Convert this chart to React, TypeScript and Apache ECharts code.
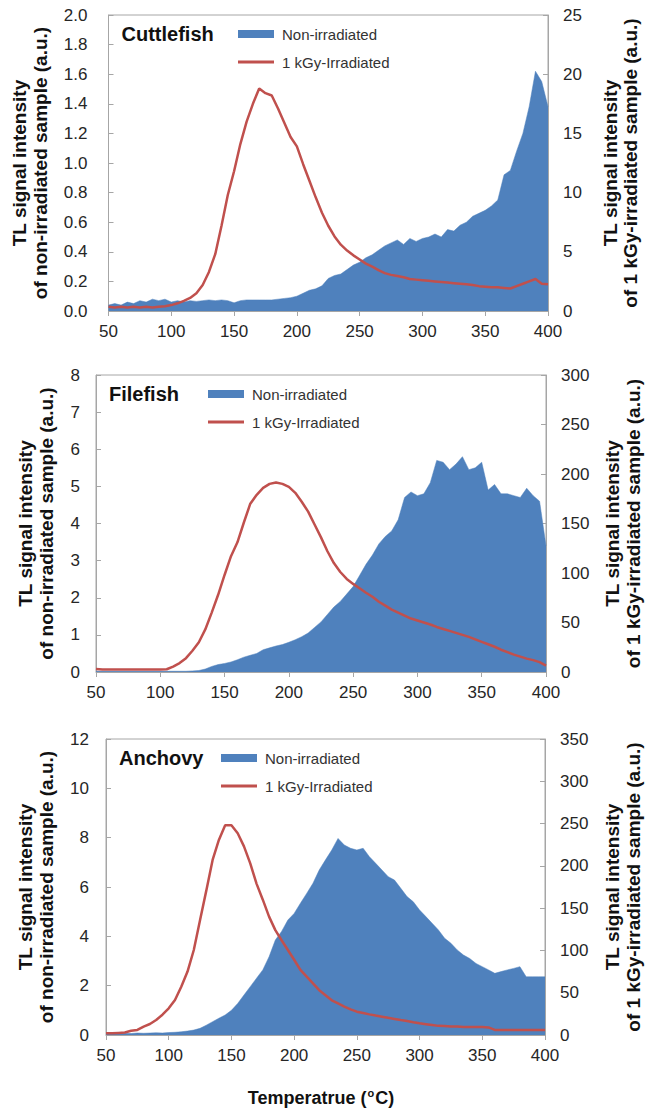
import React, { useEffect, useRef } from "react";
import * as echarts from "echarts";

const temps = [
  50, 55, 60, 65, 70, 75, 80, 85, 90, 95,
  100, 105, 110, 115, 120, 125, 130, 135, 140, 145,
  150, 155, 160, 165, 170, 175, 180, 185, 190, 195,
  200, 205, 210, 215, 220, 225, 230, 235, 240, 245,
  250, 255, 260, 265, 270, 275, 280, 285, 290, 295,
  300, 305, 310, 315, 320, 325, 330, 335, 340, 345,
  350, 355, 360, 365, 370, 375, 380, 385, 390, 395, 400,
];

const xTicks = { min: 50, max: 400, interval: 50 };

// Cuttlefish
const cuttleNon = [
  0.04, 0.05, 0.04, 0.06, 0.05, 0.07, 0.06, 0.08, 0.07, 0.08,
  0.06, 0.07, 0.06, 0.07, 0.065, 0.07, 0.075, 0.07, 0.075, 0.07,
  0.055, 0.07, 0.075, 0.075, 0.075, 0.075, 0.075, 0.08, 0.085, 0.09,
  0.1, 0.12, 0.14, 0.15, 0.17, 0.22, 0.24, 0.25, 0.28, 0.31,
  0.33, 0.36, 0.38, 0.41, 0.44, 0.46, 0.48, 0.45, 0.49, 0.47,
  0.49, 0.5, 0.52, 0.5, 0.55, 0.54, 0.58, 0.6, 0.64, 0.66,
  0.68, 0.71, 0.75, 0.92, 0.95, 1.08, 1.2, 1.38, 1.62, 1.55, 1.38,
];
const cuttleIrr = [
  0.35, 0.3, 0.35, 0.3, 0.35, 0.3, 0.35, 0.3, 0.35, 0.4,
  0.5, 0.65, 0.85, 1.1, 1.5, 2.2, 3.3, 4.8, 7.2, 9.8,
  11.8, 14.1, 16.0, 17.5, 18.8, 18.4, 18.2, 17.1, 15.9, 14.7,
  13.9, 12.4, 11.0, 9.6, 8.3, 7.2, 6.3, 5.6, 5.1, 4.7,
  4.35, 4.0, 3.75, 3.45, 3.2, 3.05, 2.95, 2.85, 2.7, 2.65,
  2.6, 2.55, 2.5, 2.45, 2.4, 2.35, 2.3, 2.25, 2.2, 2.1,
  2.05, 2.0, 2.0, 1.95, 1.9, 2.1, 2.3, 2.5, 2.7, 2.3, 2.25,
];

// Filefish
const fileNon = [
  0.02, 0.02, 0.02, 0.02, 0.02, 0.02, 0.02, 0.02, 0.02, 0.02,
  0.02, 0.02, 0.02, 0.02, 0.02, 0.03, 0.04, 0.08, 0.15, 0.2,
  0.23, 0.27, 0.33, 0.4, 0.45, 0.5, 0.6, 0.65, 0.7, 0.74,
  0.8, 0.87, 0.95, 1.05, 1.2, 1.35, 1.55, 1.75, 1.9, 2.1,
  2.3, 2.6, 2.9, 3.15, 3.45, 3.65, 3.8, 4.1, 4.7, 4.85,
  4.75, 4.8, 5.1, 5.7, 5.65, 5.45, 5.6, 5.8, 5.45, 5.5,
  5.65, 4.9, 5.05, 4.8, 4.8, 4.75, 4.7, 4.95, 4.75, 4.6, 3.4,
];
const fileIrr = [
  3, 2.5, 2.5, 2.5, 2.5, 2.5, 2.5, 2.5, 2.5, 2.5,
  2.5, 2.8, 5.5, 9, 14, 21.5, 30, 43, 60, 78,
  98, 117, 131, 151, 170, 179, 186, 190, 191.5, 190,
  187, 181, 172, 162, 149, 136, 122, 110, 101, 94,
  89, 84.5, 80, 76, 71, 67, 63, 60, 57, 54,
  52, 50, 48, 45.5, 43.5, 41.5, 39.5, 37.5, 35.5, 33,
  30.5, 28, 25.5, 22.5, 20, 17.5, 15.5, 13.5, 12, 10, 6.5,
];

// Anchovy
const anchNon = [
  0.05, 0.06, 0.05, 0.07, 0.06, 0.08, 0.07, 0.08, 0.09, 0.08,
  0.1, 0.11, 0.13, 0.16, 0.2, 0.27, 0.4, 0.54, 0.68, 0.81,
  1.0, 1.28, 1.62, 1.96, 2.3, 2.64, 3.17, 3.85, 4.2, 4.66,
  4.93, 5.34, 5.74, 6.15, 6.69, 7.1, 7.5, 7.97, 7.7, 7.57,
  7.5, 7.57, 7.23, 6.96, 6.69, 6.42, 6.28, 5.95, 5.61, 5.4,
  5.07, 4.8, 4.53, 4.26, 3.92, 3.72, 3.45, 3.24, 3.1, 2.9,
  2.77, 2.64, 2.5, 2.57, 2.64, 2.7, 2.77, 2.36, 2.36, 2.36, 2.36,
];
const anchIrr = [
  2, 2, 2.5, 3, 5, 6, 10, 13, 17.7, 24,
  31.5, 41.4, 57, 75, 100.5, 136, 171, 207, 230.6, 248,
  248, 238.5, 223, 203, 179, 160, 140, 124, 112, 100.5,
  89, 77, 69, 61, 53, 47, 41, 37.4, 33.5, 30.3,
  27.6, 26, 24.4, 23, 21.7, 20.3, 19, 17.7, 16.5, 15,
  13.8, 12.8, 11.8, 10.8, 10.5, 10, 10, 9.5, 9.5, 9.5,
  9.5, 9, 6, 6, 6, 6, 6, 6, 6, 6, 6,
];

const panelNames = ["Cuttlefish", "Filefish", "Anchovy"];
const legendNames = ["Non-irradiated", "1 kGy-Irradiated"];
const leftAxes = [
  { min: 0, max: 2, interval: 0.2, decimals: 1 },
  { min: 0, max: 8, interval: 1, decimals: 0 },
  { min: 0, max: 12, interval: 2, decimals: 0 },
];
const rightAxes = [
  { min: 0, max: 25, interval: 5 },
  { min: 0, max: 300, interval: 50 },
  { min: 0, max: 350, interval: 50 },
];
const nonSeries = [cuttleNon, fileNon, anchNon];
const irrSeries = [cuttleIrr, fileIrr, anchIrr];
const leftTitle = ["TL signal intensity", "of non-irradiated sample (a.u.)"];
const rightTitle = ["TL signal intensity", "of 1 kGy-irradiated sample (a.u.)"];
const xTitle = "Temperatrue (";

// layout
const grids = [
  { left: 108.5, top: 15, width: 439.5, height: 296, lm: 21, lt: [19, 40.5], rt: [610, 630] },
  { left: 96, top: 375, width: 450, height: 297, lm: 16, lt: [25, 46], rt: [612.5, 633] },
  { left: 106, top: 739, width: 439, height: 296, lm: 17, lt: [25, 46], rt: [612.5, 633] },
];

const FONT = "'Liberation Sans', Arial, Helvetica, sans-serif";
const BLUE = "#4F81BD";
const RED = "#C0504D";
const AXIS = "#A6A6A6";
const TXT = "#262626";

export default function App() {
  const ref = useRef<HTMLDivElement>(null);
  useEffect(() => {
    if (!ref.current) return;
    const chart = echarts.init(ref.current, undefined, { renderer: "svg" });

    const grid = grids.map((g) => ({
      left: g.left,
      top: g.top,
      width: g.width,
      height: g.height,
      show: true,
      borderColor: AXIS,
      borderWidth: 1,
      backgroundColor: "transparent",
    }));

    const xAxis = grids.map((_, i) => ({
      type: "value",
      gridIndex: i,
      min: xTicks.min,
      max: xTicks.max,
      interval: xTicks.interval,
      axisLine: { show: true, onZero: false, lineStyle: { color: AXIS, width: 1 } },
      axisTick: { show: true, length: 5, lineStyle: { color: AXIS } },
      axisLabel: { margin: 12, fontSize: 17, color: TXT, fontFamily: FONT },
      splitLine: { show: false },
    }));

    const yAxis: any[] = [];
    grids.forEach((g, i) => {
      const la = leftAxes[i];
      const ra = rightAxes[i];
      yAxis.push({
        type: "value",
        gridIndex: i,
        position: "left",
        min: la.min,
        max: la.max,
        interval: la.interval,
        axisLine: { show: true, onZero: false, lineStyle: { color: AXIS } },
        axisTick: { show: true, inside: true, length: 5, lineStyle: { color: AXIS } },
        axisLabel: {
          margin: g.lm,
          fontSize: 17,
          color: TXT,
          fontFamily: FONT,
          formatter: (v: number) => v.toFixed(la.decimals),
        },
        splitLine: { show: false },
      });
      yAxis.push({
        type: "value",
        gridIndex: i,
        position: "right",
        min: ra.min,
        max: ra.max,
        interval: ra.interval,
        axisLine: { show: true, onZero: false, lineStyle: { color: AXIS } },
        axisTick: { show: true, inside: true, length: 5, lineStyle: { color: AXIS } },
        axisLabel: { margin: 15, fontSize: 17, color: TXT, fontFamily: FONT },
        splitLine: { show: false },
      });
    });

    const series: any[] = [];
    grids.forEach((_, i) => {
      series.push({
        name: legendNames[0],
        type: "line",
        xAxisIndex: i,
        yAxisIndex: 2 * i,
        data: temps.map((t, k) => [t, nonSeries[i][k]]),
        symbol: "none",
        lineStyle: { width: 0.5, color: BLUE },
        areaStyle: { color: BLUE, opacity: 1 },
        z: 2,
      });
      series.push({
        name: legendNames[1],
        type: "line",
        xAxisIndex: i,
        yAxisIndex: 2 * i + 1,
        data: temps.map((t, k) => [t, irrSeries[i][k]]),
        symbol: "none",
        lineStyle: { width: 2.5, color: RED },
        z: 3,
      });
    });

    const graphic: any[] = [];
    grids.forEach((g, i) => {
      const titleY = g.top + 19;
      const redY = g.top + 47;
      const titleX = g.left + 13;
      const swX = [238, 208, 221][i];
      graphic.push({
        type: "text",
        x: titleX,
        y: titleY,
        z: 100,
        style: {
          text: panelNames[i],
          font: `bold 20px ${FONT}`,
          fill: "#111",
          align: "left",
          verticalAlign: "middle",
          textAlign: "left",
          textVerticalAlign: "middle",
        },
      });
      graphic.push({
        type: "rect",
        z: 100,
        shape: { x: swX, y: titleY - 4, width: 36, height: 8 },
        style: { fill: BLUE },
      });
      graphic.push({
        type: "line",
        z: 100,
        shape: { x1: swX, y1: redY, x2: swX + 36, y2: redY },
        style: { stroke: RED, lineWidth: 3 },
      });
      [titleY, redY].forEach((yy, k) => {
        graphic.push({
          type: "text",
          x: swX + 44,
          y: yy,
          z: 100,
          style: {
            text: legendNames[k],
            font: `15px ${FONT}`,
            fill: "#333",
            align: "left",
            verticalAlign: "middle",
            textAlign: "left",
            textVerticalAlign: "middle",
          },
        });
      });
      const cy = g.top + g.height / 2;
      [0, 1].forEach((k) => {
        graphic.push({
          type: "text",
          x: g.lt[k],
          y: cy,
          rotation: Math.PI / 2,
          z: 100,
          style: {
            text: leftTitle[k],
            font: `bold 19px ${FONT}`,
            fill: "#111",
            align: "center",
            verticalAlign: "middle",
            textAlign: "center",
            textVerticalAlign: "middle",
          },
        });
        graphic.push({
          type: "text",
          x: g.rt[k],
          y: cy,
          rotation: Math.PI / 2,
          z: 100,
          style: {
            text: rightTitle[k],
            font: `bold 19px ${FONT}`,
            fill: "#111",
            align: "center",
            verticalAlign: "middle",
            textAlign: "center",
            textVerticalAlign: "middle",
          },
        });
      });
    });
    graphic.push({
      type: "text",
      x: 321,
      y: 1098,
      z: 100,
      style: {
        text: `{a|${xTitle}}{s|o}{a|C)}`,
        rich: {
          a: { font: `bold 18px ${FONT}`, fill: "#111", lineHeight: 22 },
          s: { font: `bold 11px ${FONT}`, fill: "#111", verticalAlign: "top", lineHeight: 22, padding: [0, 1, 8, 1] },
        },
        align: "center",
        verticalAlign: "middle",
        textAlign: "center",
        textVerticalAlign: "middle",
      },
    });

    chart.setOption({
      animation: false,
      backgroundColor: "#ffffff",
      grid,
      xAxis,
      yAxis,
      series,
      graphic,
    });
    return () => chart.dispose();
  }, []);

  return (
    <div
      ref={ref}
      style={{ position: "absolute", left: 0, top: 0, width: 645, height: 1110 }}
    />
  );
}
